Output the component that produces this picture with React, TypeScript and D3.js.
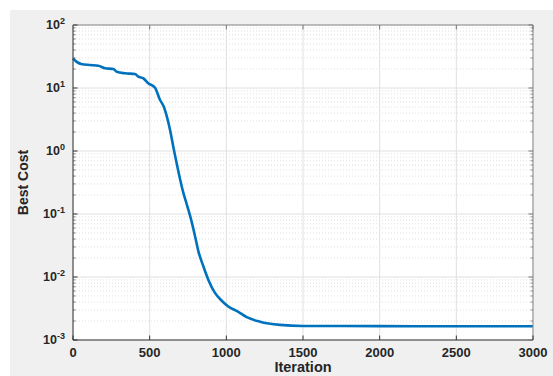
import React from "react";
import * as d3 from "d3";

const iterations = [0, 22, 54, 109, 165, 209, 263, 285, 339, 404, 426, 459, 491, 535, 567, 593, 611, 633, 654, 676, 698, 719, 741, 763, 785, 800, 817, 850, 883, 926, 970, 1013, 1078, 1133, 1220, 1350, 1500, 2000, 2500, 3000];
const bestCost = [29.6, 26.2, 24, 23.2, 22.6, 20.6, 20, 18.1, 17.1, 16.7, 15.1, 14.2, 11.9, 10.1, 6.5, 5.0, 3.6, 2.15, 1.17, 0.64, 0.36, 0.22, 0.145, 0.095, 0.058, 0.04, 0.026, 0.0148, 0.009, 0.0056, 0.0042, 0.0034, 0.0028, 0.0023, 0.00195, 0.00174, 0.00167, 0.00166, 0.00165, 0.00165];
const xTicks = [0, 500, 1000, 1500, 2000, 2500, 3000];
const yExponents = [-3, -2, -1, 0, 1, 2];

const W = 553, H = 376;
const L = 73, R = 533, T = 25, B = 340;

export default function App() {
  const x = d3.scaleLinear().domain([0, 3000]).range([L, R]);
  const y = d3.scaleLog().domain([1e-3, 1e2]).range([B, T]);
  const line = d3.line<number>().x((_, i) => x(iterations[i])).y((d) => y(d)).curve(d3.curveMonotoneX);
  const minor: number[] = [];
  for (let e = -3; e < 2; e++) for (let k = 2; k <= 9; k++) minor.push(k * Math.pow(10, e));
  const font = "'Liberation Sans', Arial, Helvetica, sans-serif";
  return (
    <svg width={W} height={H} style={{ position: "absolute", left: 0, top: 0 }} fontFamily={font}>
      <rect x={0} y={0} width={W} height={H} fill="#ffffff" />
      <rect x={10} y={10} width={W - 10} height={H - 10} fill="#f0f0f0" />
      <rect x={L} y={T} width={R - L} height={B - T} fill="#ffffff" />
      {minor.map((v, i) => (
        <line key={"m" + i} x1={L} x2={R} y1={y(v)} y2={y(v)} stroke="#d4d4d4" strokeWidth={0.7} strokeDasharray="1,2" />
      ))}
      {yExponents.map((e) => (
        <line key={"gy" + e} x1={L} x2={R} y1={y(Math.pow(10, e))} y2={y(Math.pow(10, e))} stroke="#e0e0e0" strokeWidth={1} />
      ))}
      {xTicks.map((t) => (
        <line key={"gx" + t} x1={x(t)} x2={x(t)} y1={T} y2={B} stroke="#e0e0e0" strokeWidth={1} />
      ))}
      <path d={line(bestCost) || ""} fill="none" stroke="#0072BD" strokeWidth={2.6} strokeLinejoin="round" />
      <line x1={L} x2={R} y1={T} y2={T} stroke="#8a8a8a" strokeWidth={1} />
      <line x1={R} x2={R} y1={T} y2={B} stroke="#8a8a8a" strokeWidth={1} />
      <line x1={L} x2={L} y1={T} y2={B} stroke="#333" strokeWidth={1} />
      <line x1={L} x2={R} y1={B} y2={B} stroke="#333" strokeWidth={1} />
      {minor.map((v, i) => (
        <g key={"mt" + i}>
          <line x1={L} x2={L + 2.5} y1={y(v)} y2={y(v)} stroke="#555" strokeWidth={0.8} />
          <line x1={R} x2={R - 2.5} y1={y(v)} y2={y(v)} stroke="#777" strokeWidth={0.8} />
        </g>
      ))}
      {yExponents.map((e) => (
        <g key={"yt" + e}>
          <line x1={L} x2={L + 4.5} y1={y(Math.pow(10, e))} y2={y(Math.pow(10, e))} stroke="#333" strokeWidth={1} />
          <line x1={R} x2={R - 4.5} y1={y(Math.pow(10, e))} y2={y(Math.pow(10, e))} stroke="#777" strokeWidth={1} />
          <text x={L - 8} y={y(Math.pow(10, e)) + 4} textAnchor="end" fontSize={12.5} fontWeight="bold" fill="#262626">
            10<tspan dy={-5} fontSize={9}>{e}</tspan>
          </text>
        </g>
      ))}
      {xTicks.map((t) => (
        <g key={"xt" + t}>
          <line x1={x(t)} x2={x(t)} y1={B} y2={B - 4.5} stroke="#333" strokeWidth={1} />
          <line x1={x(t)} x2={x(t)} y1={T} y2={T + 4.5} stroke="#777" strokeWidth={1} />
          <text x={x(t)} y={357} textAnchor="middle" fontSize={13} fontWeight="bold" fill="#262626">{t}</text>
        </g>
      ))}
      <text x={(L + R) / 2} y={372} textAnchor="middle" fontSize={14.5} fontWeight="bold" fill="#262626">Iteration</text>
      <text transform={`translate(28,${(T + B) / 2}) rotate(-90)`} textAnchor="middle" fontSize={14} fontWeight="bold" fill="#262626">Best Cost</text>
    </svg>
  );
}
